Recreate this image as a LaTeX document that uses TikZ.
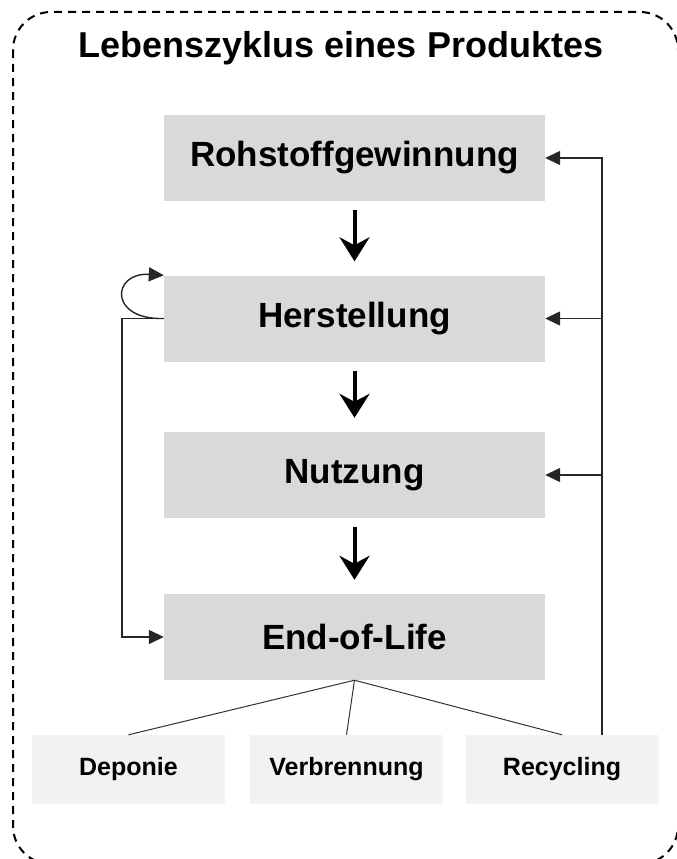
\documentclass[tikz,border=0pt]{standalone}
\usepackage{fontspec}
\setmainfont{Liberation Sans}
\usetikzlibrary{arrows.meta}
\definecolor{mainfill}{HTML}{D9D9D9}
\definecolor{subfill}{HTML}{F2F2F2}
\tikzset{
	mainbox/.style={fill=mainfill, minimum width=381pt, minimum height=86pt, inner sep=0pt, font=\fontsize{35}{40}\selectfont\bfseries},
	subbox/.style={fill=subfill, minimum width=193pt, minimum height=69pt, inner sep=0pt, font=\fontsize{25}{28}\selectfont\bfseries},
	bigarrow/.style={line width=4pt, -{Stealth[length=24pt,width=30pt,inset=8pt]}, shorten <=9pt, shorten >=14pt},
	fbline/.style={line width=1.4pt, black!85, -{Triangle[length=15pt,width=14pt]}},
	treeline/.style={line width=1pt, black!80}
}
\begin{document}
\begin{tikzpicture}[x=1pt, y=-1pt]
		\useasboundingbox (0,0) rectangle (677,859);
		\clip (0,0) rectangle (677,859);
		\draw[line width=2pt, dash pattern=on 8pt off 6pt, rounded corners=38pt] (13,12) rectangle (678,864);
		\node[font=\fontsize{36}{40}\selectfont\bfseries] (title) at (341,48) {Lebenszyklus eines Produktes};
		\node[mainbox] (rohstoff) at (354.5,158) {Rohstoffgewinnung};
		\node[mainbox] (herstellung) at (354.5,318.5) {Herstellung};
		\node[mainbox] (nutzung) at (354.5,475) {Nutzung};
		\node[mainbox] (eol) at (354.5,637) {End-of-Life};
		\node[subbox] (deponie) at (128.5,769.5) {Deponie};
		\node[subbox] (verbrennung) at (346.5,769.5) {Verbrennung};
		\node[subbox] (recycling) at (562,769.5) {Recycling};
		\draw[bigarrow] (rohstoff.south) -- (herstellung.north);
		\draw[bigarrow] (herstellung.south) -- (nutzung.north);
		\draw[bigarrow] (nutzung.south) -- (eol.north);
		\draw[treeline] (eol.south) -- (deponie.north);
		\draw[treeline] (eol.south) -- (verbrennung.north);
		\draw[treeline] (eol.south) -- (recycling.north);
		\coordinate (rtop) at ([xshift=40pt]recycling.north);
		\draw[fbline] (rtop) |- (rohstoff.east);
		\draw[fbline] (rtop) |- (herstellung.east);
		\draw[fbline] (rtop) |- (nutzung.east);
		\draw[fbline] (herstellung.west) -- ++(-42,0) |- (eol.west);
		\draw[fbline] (herstellung.west) .. controls (108,320) and (112,272) .. (herstellung.north west);
\end{tikzpicture}
\end{document}
